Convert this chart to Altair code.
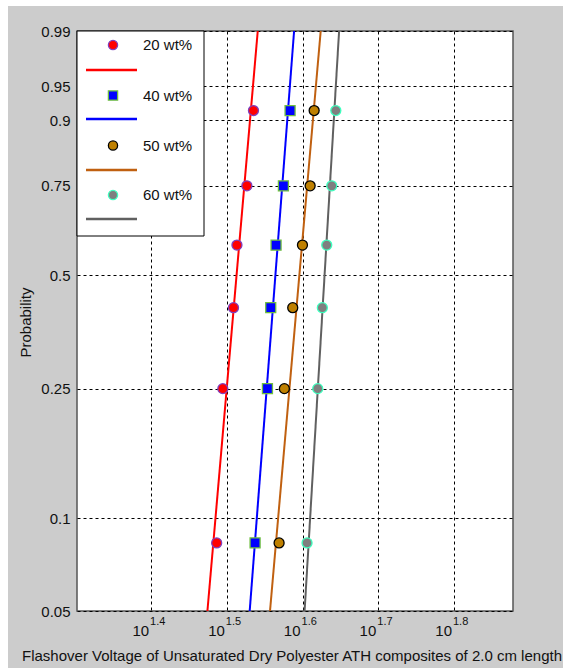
import math
import altair as alt
import pandas as pd

# ---------------- data ----------------
series = ["20 wt%", "40 wt%", "50 wt%", "60 wt%"]
probs = [0.0833, 0.25, 0.4167, 0.5833, 0.75, 0.9167]
v20 = [30.66, 31.24, 32.27, 32.61, 33.61, 34.29]
v40 = [34.46, 35.78, 36.14, 36.73, 37.56, 38.33]
v50 = [37.07, 37.67, 38.64, 39.80, 40.74, 41.24]
v60 = [40.36, 41.69, 42.28, 42.85, 43.51, 44.05]
fit_p = [0.05, 0.99]
fit20 = [29.81, 34.74]
fit40 = [33.90, 38.80]
fit50 = [36.06, 42.07]
fit60 = [40.06, 44.49]
x_tick_exp = ["1.4", "1.5", "1.6", "1.7", "1.8"]
y_ticks = [0.05, 0.1, 0.25, 0.5, 0.75, 0.9, 0.95, 0.99]
x_domain = [20.05, 75.5]

# ---------------- styles ----------------
fill_colors = ["#ff0000", "#0000ff", "#bf8000", "#7f7f7f"]
edge_colors = ["#7f3fbf", "#6fbf3f", "#000000", "#3fffbf"]
line_colors = ["#ff0000", "#0000ff", "#c06010", "#606060"]
shapes = ["circle", "square", "circle", "circle"]
FONT = "Liberation Sans, Arial, sans-serif"
TXT = "#111111"
W, H = 436, 580

pts = pd.DataFrame({
    "series": sum([[s] * len(probs) for s in series], []),
    "p": probs * 4,
    "V": v20 + v40 + v50 + v60,
})
fits = pd.DataFrame({
    "series": sum([[s] * 2 for s in series], []),
    "p": fit_p * 4,
    "V": fit20 + fit40 + fit50 + fit60,
})
xt = pd.DataFrame({"e": x_tick_exp, "V": [10 ** float(e) for e in x_tick_exp]})

def wb(p):
    return math.log(-math.log(1 - p))

xscale = alt.Scale(type="log", domain=x_domain, nice=False)
yscale = alt.Scale(domain=[wb(0.05), wb(0.99)], nice=False, zero=False)

xaxis = alt.Axis(values=[10 ** float(e) for e in x_tick_exp], labels=False, ticks=False,
                 domain=False, grid=True, gridColor="#000000", gridDash=[3, 3],
                 gridOpacity=1, gridWidth=1,
                 title="Flashover Voltage of Unsaturated Dry Polyester ATH composites of 2.0 cm length",
                 titleFont=FONT, titleFontSize=15, titleFontWeight="normal", titleColor=TXT,
                 titleX=214.5, titleY=44, titleAlign="center", titleBaseline="middle",
                 titleAnchor="start")
yaxis = alt.Axis(values=[wb(p) for p in y_ticks],
                 labelExpr="format(1-exp(-exp(datum.value)), '.2~f')",
                 ticks=False, domain=False, grid=True, gridColor="#000000", gridDash=[3, 3],
                 gridOpacity=1, gridWidth=1, labelPadding=7, labelFont=FONT,
                 labelFontSize=15, labelColor=TXT,
                 title="Probability", titleFont=FONT, titleFontSize=15,
                 titleFontWeight="normal", titleColor=TXT, titleAngle=270,
                 titleX=-52, titleY=291, titleAlign="center", titleBaseline="middle",
                 titleAnchor="start")

fill_scale = alt.Scale(domain=series, range=fill_colors)
stroke_scale = alt.Scale(domain=series, range=edge_colors)
color_scale = alt.Scale(domain=series, range=line_colors)
shape_scale = alt.Scale(domain=series, range=shapes)

lines = alt.Chart(fits).transform_calculate(wy="log(-log(1-datum.p))").mark_line(
    strokeWidth=2).encode(
    x=alt.X("V:Q", scale=xscale, axis=xaxis),
    y=alt.Y("wy:Q", scale=yscale, axis=yaxis),
    color=alt.Color("series:N", scale=color_scale, legend=None),
    detail="series:N",
)

points = alt.Chart(pts).transform_calculate(wy="log(-log(1-datum.p))").mark_point(
    filled=False, size=100, strokeWidth=1.3, opacity=1, fillOpacity=1).encode(
    x=alt.X("V:Q", scale=xscale),
    y=alt.Y("wy:Q", scale=yscale),
    fill=alt.Fill("series:N", scale=fill_scale, legend=None),
    stroke=alt.Stroke("series:N", scale=stroke_scale, legend=None),
    shape=alt.Shape("series:N", scale=shape_scale, legend=None),
)

# custom x tick labels 10^e
base_lbl = alt.Chart(xt).mark_text(font=FONT, fontSize=15, color=TXT, align="right",
                                   baseline="middle", dx=-2).encode(
    x=alt.X("V:Q", scale=xscale), y=alt.value(600), text=alt.value("10"))
exp_lbl = alt.Chart(xt).mark_text(font=FONT, fontSize=11, color=TXT, align="left",
                                  baseline="middle", dx=-1).encode(
    x=alt.X("V:Q", scale=xscale), y=alt.value(591), text="e:N")

one = pd.DataFrame({"k": [0]})
# white page border (top and left)
strip_l = alt.Chart(one).mark_rect(color="white").encode(
    x=alt.value(-77), x2=alt.value(-69), y=alt.value(-31), y2=alt.value(637))
strip_t = alt.Chart(one).mark_rect(color="white").encode(
    x=alt.value(-77), x2=alt.value(486), y=alt.value(-31), y2=alt.value(-25))

# legend box
leg_layers = [alt.Chart(one).mark_rect(fill="white", stroke="#000000", strokeWidth=1).encode(
    x=alt.value(0), x2=alt.value(127), y=alt.value(0), y2=alt.value(205))]
mark_y = [14, 64.5, 114.5, 164]
line_y = [39, 88, 139, 188]
for i, s in enumerate(series):
    d = pd.DataFrame({"series": [s]})
    leg_layers.append(alt.Chart(d).mark_point(filled=False, size=85, strokeWidth=1.3,
                                              opacity=1, fillOpacity=1).encode(
        x=alt.value(36), y=alt.value(mark_y[i]),
        fill=alt.Fill("series:N", scale=fill_scale, legend=None),
        stroke=alt.Stroke("series:N", scale=stroke_scale, legend=None),
        shape=alt.Shape("series:N", scale=shape_scale, legend=None)))
    leg_layers.append(alt.Chart(d).mark_rule(strokeWidth=2.5, color=line_colors[i]).encode(
        x=alt.value(9), x2=alt.value(60), y=alt.value(line_y[i])))
    leg_layers.append(alt.Chart(d).mark_text(font=FONT, fontSize=15, color=TXT, align="left",
                                             baseline="middle").encode(
        x=alt.value(66), y=alt.value(mark_y[i]), text="series:N"))

chart = alt.layer(lines, points, base_lbl, exp_lbl, strip_l, strip_t, *leg_layers).properties(
    width=W, height=H,
    autosize=alt.AutoSizeParams(type="none"),
    padding={"left": 77, "top": 31, "right": 50, "bottom": 57},
    background="#cccccc",
).configure_view(fill="white", stroke="#555555", strokeWidth=1.5)

chart.save("out.html", embed_options={"renderer": "svg", "actions": False})
